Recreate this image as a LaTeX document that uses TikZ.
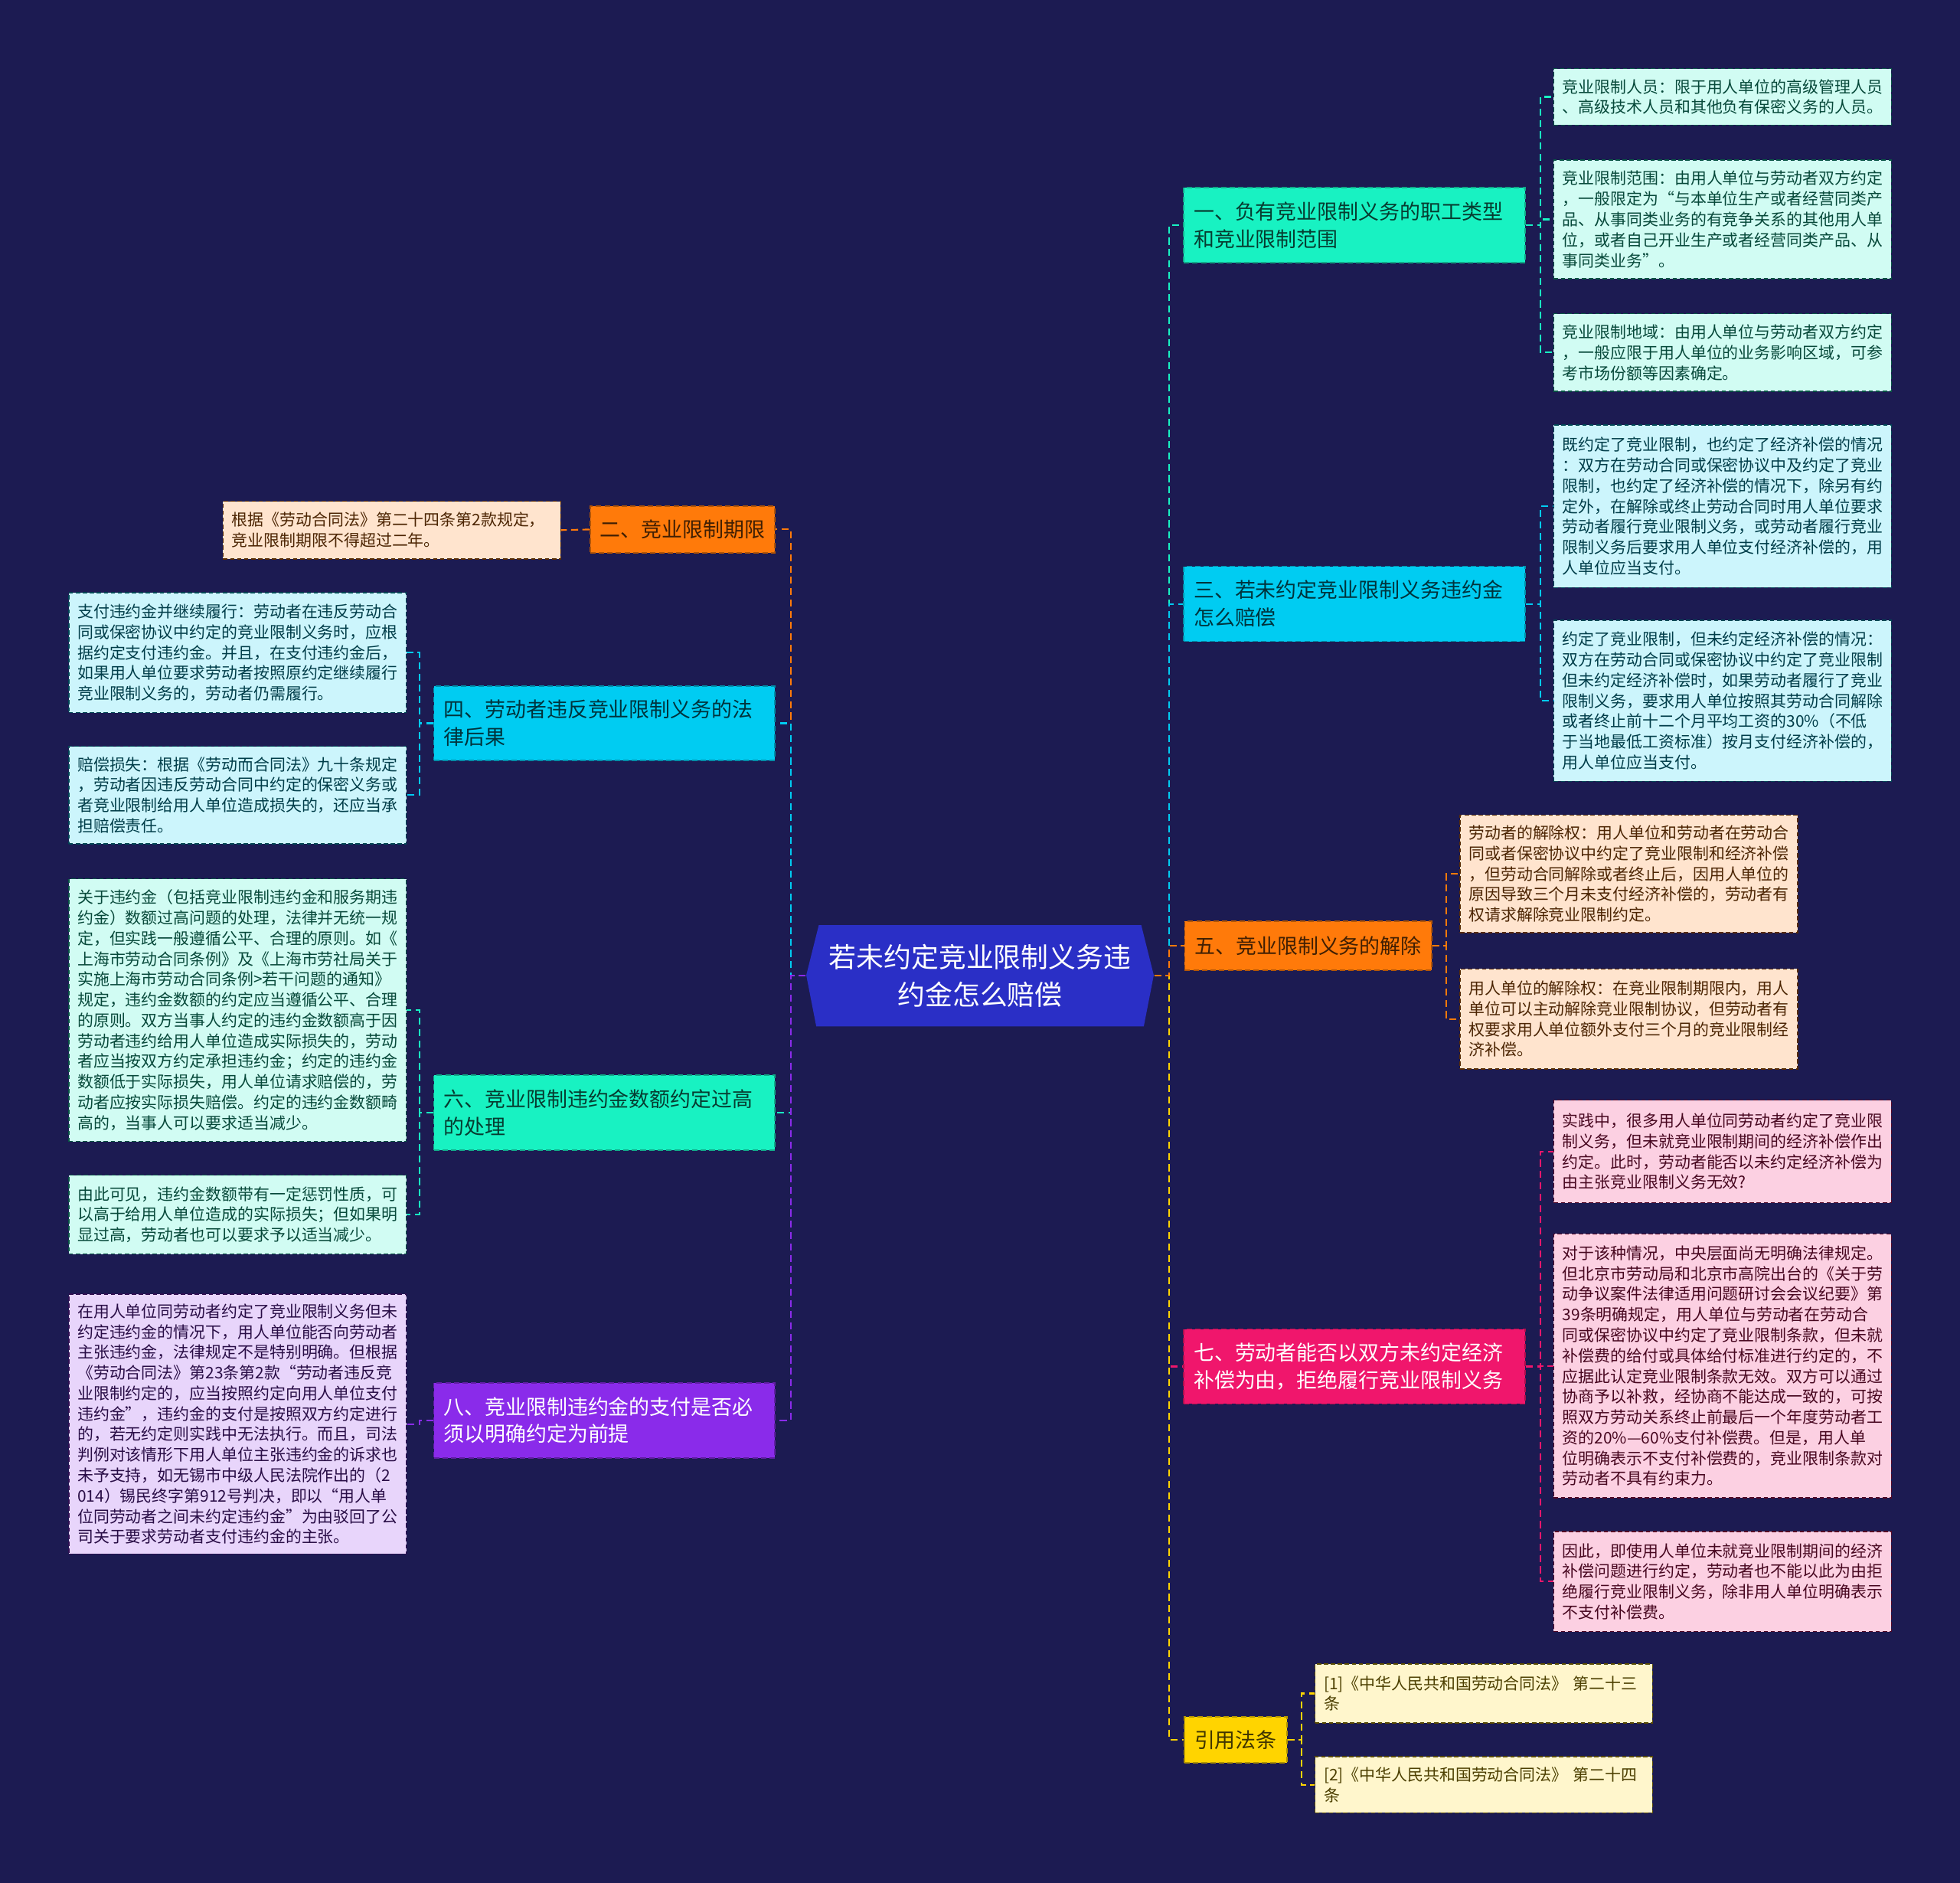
\documentclass[tikz,border=0pt]{standalone}
\usepackage{fontspec}
\setmainfont{Noto Sans CJK SC}
\newlength{\mmpx}
\setlength{\mmpx}{0.4645pt}
\definecolor{mmnavy}{HTML}{1C1B52}
\definecolor{mmroot}{HTML}{2A2FC6}
\definecolor{mmmint}{HTML}{18F2C2}
\definecolor{mmcyan}{HTML}{00CCF2}
\definecolor{mmorange}{HTML}{FF7A0A}
\definecolor{mmpink}{HTML}{F0166C}
\definecolor{mmpurple}{HTML}{8A2BEA}
\definecolor{mmyellow}{HTML}{FFD400}
\tikzset{
  roottext/.style={minimum width=278\mmpx,minimum height=81\mmpx,align=center,text=white,font=\fontsize{10.2}{13.9}\selectfont},
  branch/.style={rectangle,fill=#1,draw=#1!70!black,line width=.5pt,dash pattern=on 2pt off 1.2pt,inner xsep=8\mmpx,align=left,text=#1!25!black,font=\fontsize{7.66}{10.2}\selectfont},
  leaf/.style={rectangle,fill=#1!20,draw=#1!35!black,line width=.4pt,dash pattern=on 1.6pt off 1pt,inner xsep=7\mmpx,text width=256\mmpx,align=left,text=#1!30!black,font=\fontsize{5.95}{7.62}\selectfont},
  link/.style={draw=#1,line width=.6pt,dash pattern=on 2.6pt off 1.6pt},
}
\begin{document}
\begin{tikzpicture}[x=0.4645pt,y=-0.4645pt]
  \fill[mmnavy] (0,0) rectangle (1568,1506);
  % centre
  \fill[mmroot] (645,780) -- (655,740) -- (913,740) -- (923,780) -- (915,821) -- (653,821) -- cycle;
  \node[roottext] (root) at (784,780.5) {若未约定竞业限制义务违\\约金怎么赔偿};
  % right branches
  \node[branch=mmmint,text width=257\mmpx,minimum height=60\mmpx] (b1) at (1083.5,180) {一、负有竞业限制义务的职工类型\\和竞业限制范围};
  \node[branch=mmcyan,text width=257\mmpx,minimum height=60\mmpx] (b3) at (1083.5,483) {三、若未约定竞业限制义务违约金\\怎么赔偿};
  \node[branch=mmorange,minimum height=39\mmpx] (b5) at (1046.5,756.5) {五、竞业限制义务的解除};
  \node[branch=mmpink,text=white,text width=257\mmpx,minimum height=60\mmpx] (b7) at (1083.5,1093) {七、劳动者能否以双方未约定经济\\补偿为由，拒绝履行竞业限制义务};
  \node[branch=mmyellow,minimum height=37\mmpx] (bref) at (988.5,1391.5) {引用法条};
  % left branches
  \node[branch=mmorange,minimum height=37\mmpx] (b2) at (546,423.5) {二、竞业限制期限};
  \node[branch=mmcyan,text width=257\mmpx,minimum height=59\mmpx] (b4) at (483.5,578.5) {四、劳动者违反竞业限制义务的法\\律后果};
  \node[branch=mmmint,text width=257\mmpx,minimum height=60\mmpx] (b6) at (483.5,890) {六、竞业限制违约金数额约定过高\\的处理};
  \node[branch=mmpurple,text=white,text width=257\mmpx,minimum height=60\mmpx] (b8) at (483.5,1136) {八、竞业限制违约金的支付是否必\\须以明确约定为前提};
  % leaves, right
  \node[leaf=mmmint,minimum height=45\mmpx] (l1a) at (1378,77.5) {竞业限制人员：限于用人单位的高级管理人员\\、高级技术人员和其他负有保密义务的人员。};
  \node[leaf=mmmint,minimum height=95\mmpx] (l1b) at (1378,175.5) {竞业限制范围：由用人单位与劳动者双方约定\\，一般限定为“与本单位生产或者经营同类产\\品、从事同类业务的有竞争关系的其他用人单\\位，或者自己开业生产或者经营同类产品、从\\事同类业务”。};
  \node[leaf=mmmint,minimum height=62\mmpx] (l1c) at (1378,282) {竞业限制地域：由用人单位与劳动者双方约定\\，一般应限于用人单位的业务影响区域，可参\\考市场份额等因素确定。};
  \node[leaf=mmcyan,minimum height=130\mmpx] (l3a) at (1378,405) {既约定了竞业限制，也约定了经济补偿的情况\\：双方在劳动合同或保密协议中及约定了竞业\\限制，也约定了经济补偿的情况下，除另有约\\定外，在解除或终止劳动合同时用人单位要求\\劳动者履行竞业限制义务，或劳动者履行竞业\\限制义务后要求用人单位支付经济补偿的，用\\人单位应当支付。};
  \node[leaf=mmcyan,minimum height=129\mmpx] (l3b) at (1378,560.5) {约定了竞业限制，但未约定经济补偿的情况：\\双方在劳动合同或保密协议中约定了竞业限制\\但未约定经济补偿时，如果劳动者履行了竞业\\限制义务，要求用人单位按照其劳动合同解除\\或者终止前十二个月平均工资的30\%（不低\\于当地最低工资标准）按月支付经济补偿的，\\用人单位应当支付。};
  \node[leaf=mmorange,minimum height=94\mmpx] (l5a) at (1303,699) {劳动者的解除权：用人单位和劳动者在劳动合\\同或者保密协议中约定了竞业限制和经济补偿\\，但劳动合同解除或者终止后，因用人单位的\\原因导致三个月未支付经济补偿的，劳动者有\\权请求解除竞业限制约定。};
  \node[leaf=mmorange,minimum height=80\mmpx] (l5b) at (1303,815) {用人单位的解除权：在竞业限制期限内，用人\\单位可以主动解除竞业限制协议，但劳动者有\\权要求用人单位额外支付三个月的竞业限制经\\济补偿。};
  \node[leaf=mmpink,minimum height=82\mmpx] (l7a) at (1378,921) {实践中，很多用人单位同劳动者约定了竞业限\\制义务，但未就竞业限制期间的经济补偿作出\\约定。此时，劳动者能否以未约定经济补偿为\\由主张竞业限制义务无效?};
  \node[leaf=mmpink,minimum height=211\mmpx] (l7b) at (1378,1092.5) {对于该种情况，中央层面尚无明确法律规定。\\但北京市劳动局和北京市高院出台的《关于劳\\动争议案件法律适用问题研讨会会议纪要》第\\39条明确规定，用人单位与劳动者在劳动合\\同或保密协议中约定了竞业限制条款，但未就\\补偿费的给付或具体给付标准进行约定的，不\\应据此认定竞业限制条款无效。双方可以通过\\协商予以补救，经协商不能达成一致的，可按\\照双方劳动关系终止前最后一个年度劳动者工\\资的20\%—60\%支付补偿费。但是，用人单\\位明确表示不支付补偿费的，竞业限制条款对\\劳动者不具有约束力。};
  \node[leaf=mmpink,minimum height=80\mmpx] (l7c) at (1378,1265) {因此，即使用人单位未就竞业限制期间的经济\\补偿问题进行约定，劳动者也不能以此为由拒\\绝履行竞业限制义务，除非用人单位明确表示\\不支付补偿费。};
  \node[leaf=mmyellow,minimum height=47\mmpx] (r1) at (1187,1354.5) {[1]《中华人民共和国劳动合同法》 第二十三\\条};
  \node[leaf=mmyellow,minimum height=45\mmpx] (r2) at (1187,1427.5) {[2]《中华人民共和国劳动合同法》 第二十四\\条};
  % leaves, left
  \node[leaf=mmorange,minimum height=46\mmpx] (l2) at (313.5,424) {根据《劳动合同法》第二十四条第2款规定，\\竞业限制期限不得超过二年。};
  \node[leaf=mmcyan,minimum height=96\mmpx] (l4a) at (190,522) {支付违约金并继续履行：劳动者在违反劳动合\\同或保密协议中约定的竞业限制义务时，应根\\据约定支付违约金。并且，在支付违约金后，\\如果用人单位要求劳动者按照原约定继续履行\\竞业限制义务的，劳动者仍需履行。};
  \node[leaf=mmcyan,minimum height=78\mmpx] (l4b) at (190,636) {赔偿损失：根据《劳动而合同法》九十条规定\\，劳动者因违反劳动合同中约定的保密义务或\\者竞业限制给用人单位造成损失的，还应当承\\担赔偿责任。};
  \node[leaf=mmmint,minimum height=210\mmpx] (l6a) at (190,808) {关于违约金（包括竞业限制违约金和服务期违\\约金）数额过高问题的处理，法律并无统一规\\定，但实践一般遵循公平、合理的原则。如《\\上海市劳动合同条例》及《上海市劳社局关于\\实施上海市劳动合同条例>若干问题的通知》\\规定，违约金数额的约定应当遵循公平、合理\\的原则。双方当事人约定的违约金数额高于因\\劳动者违约给用人单位造成实际损失的，劳动\\者应当按双方约定承担违约金；约定的违约金\\数额低于实际损失，用人单位请求赔偿的，劳\\动者应按实际损失赔偿。约定的违约金数额畸\\高的，当事人可以要求适当减少。};
  \node[leaf=mmmint,minimum height=63\mmpx] (l6b) at (190,971.5) {由此可见，违约金数额带有一定惩罚性质，可\\以高于给用人单位造成的实际损失；但如果明\\显过高，劳动者也可以要求予以适当减少。};
  \node[leaf=mmpurple,minimum height=208\mmpx] (l8) at (190,1139) {在用人单位同劳动者约定了竞业限制义务但未\\约定违约金的情况下，用人单位能否向劳动者\\主张违约金，法律规定不是特别明确。但根据\\《劳动合同法》第23条第2款“劳动者违反竞\\业限制约定的，应当按照约定向用人单位支付\\违约金”，违约金的支付是按照双方约定进行\\的，若无约定则实践中无法执行。而且，司法\\判例对该情形下用人单位主张违约金的诉求也\\未予支持，如无锡市中级人民法院作出的（2\\014）锡民终字第912号判决，即以“用人单\\位同劳动者之间未约定违约金”为由驳回了公\\司关于要求劳动者支付违约金的主张。};
  % links from the centre
  \draw[link=mmmint] (root.east) -- ++(12,0) |- (b1.west);
  \draw[link=mmcyan] (root.east) -- ++(12,0) |- (b3.west);
  \draw[link=mmpink] (root.east) -- ++(12,0) |- (b7.west);
  \draw[link=mmyellow] (root.east) -- ++(12,0) |- (bref.west);
  \draw[link=mmorange] (root.east) -- ++(12,0) |- (b5.west);
  \draw[link=mmorange] (root.west) -- ++(-12,0) |- (b2.east);
  \draw[link=mmcyan] (root.west) -- ++(-12,0) |- (b4.east);
  \draw[link=mmmint] (root.west) -- ++(-12,0) |- (b6.east);
  \draw[link=mmpurple] (root.west) -- ++(-12,0) |- (b8.east);
  % links to the leaves
  \foreach \leafname in {l1a,l1b,l1c}
    \draw[link=mmmint] (b1.east) -- ++(12,0) |- (\leafname.west);
  \foreach \leafname in {l3a,l3b}
    \draw[link=mmcyan] (b3.east) -- ++(12,0) |- (\leafname.west);
  \foreach \leafname in {l5a,l5b}
    \draw[link=mmorange] (b5.east) -- ++(11,0) |- (\leafname.west);
  \foreach \leafname in {l7a,l7b,l7c}
    \draw[link=mmpink] (b7.east) -- ++(12,0) |- (\leafname.west);
  \foreach \leafname in {r1,r2}
    \draw[link=mmyellow] (bref.east) -- ++(11,0) |- (\leafname.west);
  \draw[link=mmorange] (b2.west) -- (l2.east);
  \foreach \leafname in {l4a,l4b}
    \draw[link=mmcyan] (b4.west) -- ++(-11,0) |- (\leafname.east);
  \foreach \leafname in {l6a,l6b}
    \draw[link=mmmint] (b6.west) -- ++(-11,0) |- (\leafname.east);
  \draw[link=mmpurple] (b8.west) -- ++(-11,0) |- (l8.east);
\end{tikzpicture}
\end{document}
